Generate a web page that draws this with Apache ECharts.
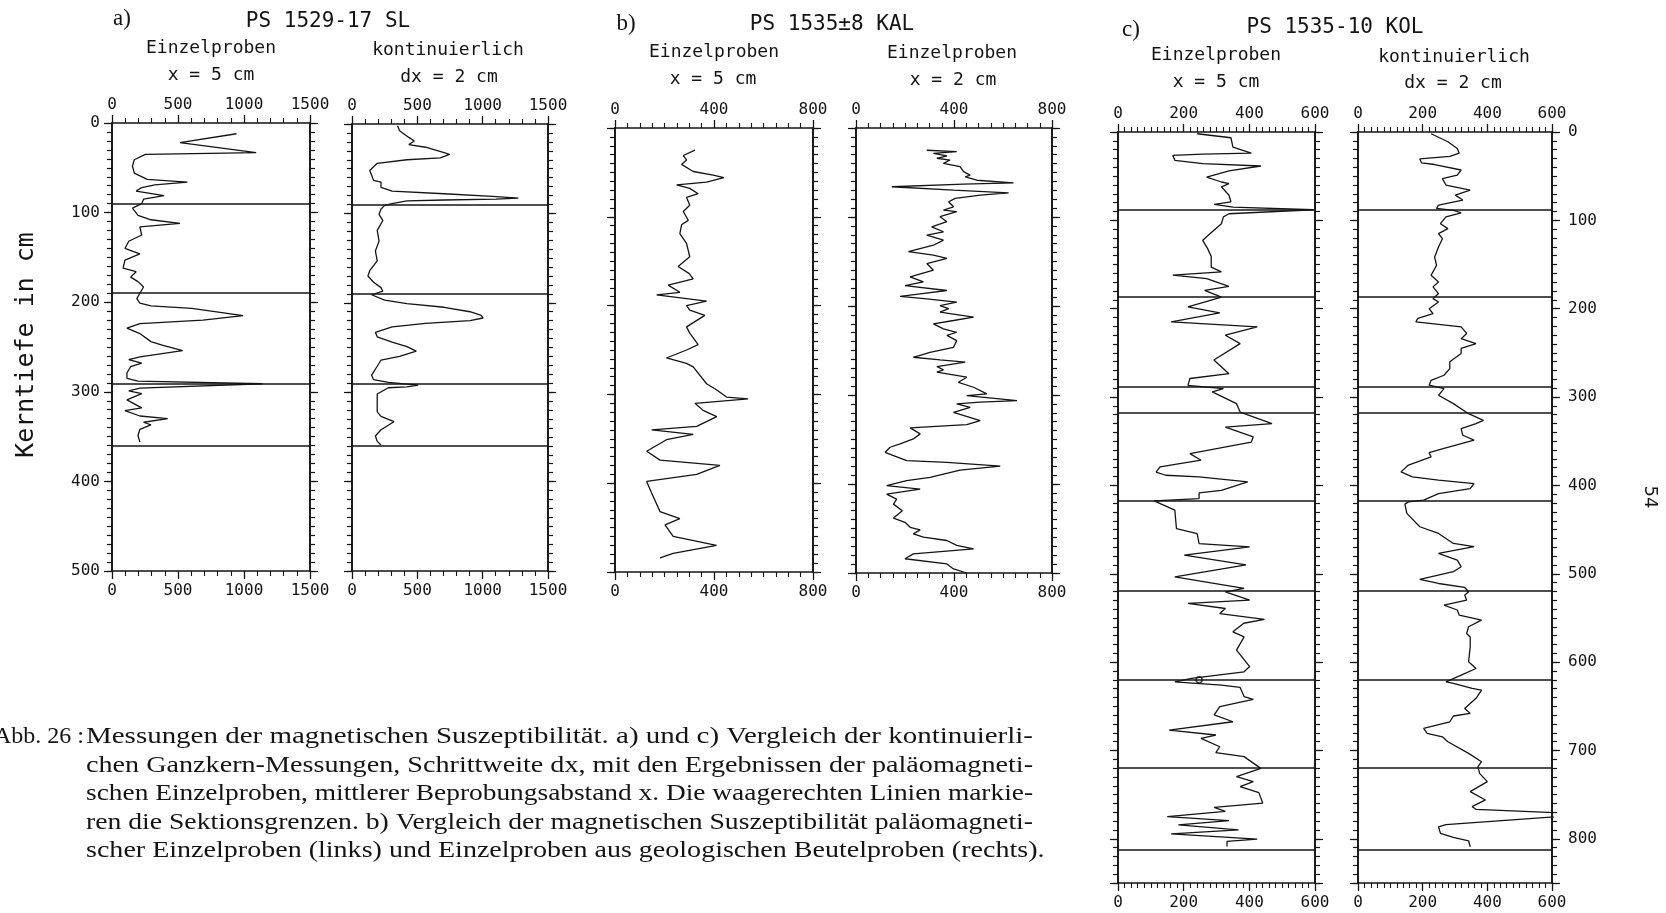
<!DOCTYPE html>
<html>
<head>
<meta charset="utf-8">
<script src="https://cdn.jsdelivr.net/npm/echarts@6/dist/echarts.min.js"></script>
<style>
  html, body { margin: 0; padding: 0; background: #fff; }
  #chart { width: 1666px; height: 913px; }
</style>
</head>
<body>
<div id="chart"></div>
<script>
// Magnetic susceptibility vs. core depth (cm), three cores.

// ---- a) PS 1529-17 SL, Einzelproben (x = 5 cm) ----
const a1Depth = [12, 22, 33, 35, 41, 48, 56, 63, 66, 69, 72, 76, 81, 85, 90,
  95, 103, 108, 112, 116, 125, 132, 140, 146, 153, 162, 166, 172, 177, 183, 190,
  196, 201, 204, 207, 215, 220, 224, 229, 235, 244, 248, 254, 261, 264, 268, 272,
  279, 285, 288, 291, 296, 299, 302, 309, 318, 321, 327, 330, 334, 337, 342, 349, 356];
const a1Chi = [943, 515, 1092, 253, 169, 155, 169, 267, 571, 324, 225, 183, 394, 239, 225,
  155, 197, 295, 515, 211, 225, 127, 98, 211, 98, 84, 183, 141, 197, 239, 211,
  188, 211, 295, 605, 993, 689, 211, 113, 211, 295, 380, 535, 211, 127, 225, 141,
  113, 113, 197, 1140, 211, 127, 225, 113, 225, 98, 211, 422, 239, 295, 211, 197, 211];

// ---- a) PS 1529-17 SL, kontinuierlich (dx = 2 cm) ----
const a2Depth = [2, 7.5, 15, 19, 23, 26, 32, 34, 38, 40, 44, 52, 63, 65, 71, 75, 78, 81,
  83, 84, 85, 86, 89, 91, 95, 101, 108, 119, 131, 142, 153, 164, 170, 177, 183, 187,
  191, 193, 197, 201, 205, 210, 214, 217, 220, 223, 227, 233, 238, 244, 249, 254, 260,
  264, 271, 281, 286, 289, 292, 294, 295, 302, 313, 322, 327, 333, 342, 349, 355, 359];
const a2Chi = [349, 364, 435, 477, 435, 563, 705, 747, 676, 420, 193, 136, 165, 222, 222, 307, 705, 1074,
  1273, 1102, 705, 420, 307, 250, 222, 207, 236, 193, 207, 179, 193, 136, 122, 165, 222, 236,
  150, 165, 250, 420, 705, 903, 989, 1003, 903, 563, 307, 179, 193, 307, 420, 492, 364,
  222, 193, 150, 165, 278, 506, 420, 278, 193, 193, 193, 222, 321, 222, 179, 193, 222];

// ---- b) PS 1535-8 KAL, Einzelproben (x = 5 cm) ----
const b1Depth = [25, 31, 36, 41, 49, 53, 56, 61, 64, 68, 74, 78, 87, 94, 104, 109, 119,
  130, 145, 156, 164, 170, 177, 185, 188, 195, 200, 205, 211, 224, 231, 244, 250, 259,
  265, 269, 288, 295, 303, 305, 310, 318, 325, 336, 340, 345, 351, 364, 374, 380, 390,
  398, 411, 432, 440, 447, 460, 470, 479, 484];
const b1Chi = [323, 276, 289, 269, 316, 397, 440, 370, 249, 302, 336, 289, 302, 276, 296, 269, 262,
  289, 302, 255, 300, 316, 215, 262, 168, 370, 289, 302, 363, 289, 302, 336, 289, 208,
  289, 316, 370, 411, 451, 538, 323, 356, 411, 330, 148, 316, 208, 128, 182, 424, 330,
  128, 148, 182, 262, 202, 235, 410, 235, 182];

// ---- b) PS 1535-8 KAL, Einzelproben (x = 2 cm) ----
const b2Depth = [25, 26.6, 28.4, 31.4, 34, 36, 39.7, 43.5, 49, 53, 55, 58.7, 61.6, 63, 66,
  69.8, 72.8, 75.4, 79, 82.9, 88.5, 92.3, 94, 99.7, 105.3, 111, 116.6, 120.4, 126, 131.7,
  139, 142.9, 146.6, 152.3, 159.8, 167.3, 173, 177, 182.6, 186.3, 189.3, 192, 195.7, 199.5,
  203, 206.9, 210.7, 212.5, 216.3, 220, 225.7, 229.5, 233, 238.9, 246.4, 252, 257.6, 260.6,
  263, 268, 271.8, 274.4, 280, 285.7, 291.3, 298.8, 300.7, 306.3, 308, 310, 313.8, 319.4,
  328.7, 333.2, 337, 343.7, 349.4, 355, 358.7, 364.4, 368, 373.7, 375.6, 380, 384.3, 392.5,
  396.3, 401.9, 405.7, 411.3, 417, 422.6, 430, 438.3, 443, 448.6, 451.6, 456, 459.8, 463.5,
  469, 472.8, 478.5, 484, 489.8, 495.4, 500];
const b2Chi = [289, 411, 316, 371, 330, 384, 357, 425, 439, 466, 446, 493, 643, 439, 146,
  398, 623, 507, 405, 378, 398, 357, 411, 343, 371, 309, 357, 289, 357, 316,
  214, 316, 371, 289, 316, 221, 275, 200, 371, 262, 180, 289, 411, 343,
  378, 343, 439, 480, 398, 316, 357, 411, 371, 411, 398, 302, 234, 343,
  446, 330, 357, 330, 452, 418, 480, 534, 452, 657, 507, 411, 466, 398,
  507, 452, 221, 262, 234, 180, 139, 119, 153, 207, 371, 589, 425, 302,
  207, 125, 262, 125, 166, 153, 189, 153, 200, 221, 262, 234, 275, 371,
  411, 480, 234, 200, 371, 398, 452];

// ---- c) PS 1535-10 KOL, Einzelproben (x = 5 cm) ----
const c1Depth = [2, 6.5, 17, 23.8, 25, 26.4, 32, 35.9, 38.5, 44, 51, 56.6, 58.5, 62, 71.6, 79,
  82, 85, 88, 92.5, 96, 103.8, 111, 122.6, 132, 141, 153, 158.4, 162, 166, 174.7, 179.3,
  187, 198, 204.8, 215, 220.6, 230, 239.5, 258, 273.5, 279, 286.7, 290.5, 294.2, 307.5, 317,
  330, 334, 345, 351, 364, 371.5, 379, 385, 388.5, 390.4, 396, 405.5, 408.5, 414.9, 417.5,
  428, 448.8, 454.5, 465.8, 469.5, 479, 490, 503.4, 516.6, 520.4, 529.8, 533.6, 539.3, 545,
  551.7, 556, 565.7, 571.5, 586.4, 605, 611, 618.5, 622.3, 626, 628.7, 639, 642.2, 650.4,
  659.7, 667.5, 676.9, 682.5, 686.4, 695.8, 702.5, 707, 720.3, 729.6, 735.3, 741, 747.7,
  759.7, 764.3, 769, 774.8, 779.3, 784.2, 789.8, 794.4, 800.4, 803, 808.6];
const c1Chi = [241, 344, 350, 406, 258, 167, 173, 258, 435, 338, 270, 315, 338, 315, 338, 344,
  293, 350, 595, 338, 321, 315, 293, 258, 273, 284, 284, 315, 167, 270, 338, 264,
  315, 213, 310, 162, 424, 327, 372, 292, 338, 219, 213, 321, 287, 361, 372,
  469, 327, 412, 406, 219, 253, 128, 116, 145, 247, 395, 315, 247, 247, 110,
  173, 178, 241, 247, 401, 202, 390, 173, 384, 327, 401, 213, 327, 310,
  446, 383, 350, 384, 361, 401, 384, 224, 173, 315, 372, 384, 412, 310,
  293, 350, 156, 298, 253, 310, 298, 384, 435, 361, 412, 372, 429,
  441, 293, 327, 150, 338, 184, 367, 162, 424, 332, 332];
// ringed sample at the 620 cm section boundary
const c1Ringed = [[247, 620]];

// ---- c) PS 1535-10 KOL, kontinuierlich (dx = 2 cm) ----
const c2Depth = [2, 11, 18.7, 24, 27.5, 30.5, 35, 36.8, 43, 48.8, 52.8, 60, 65.8, 71.4, 77, 82.7,
  86.5, 88.6, 91.4, 96, 103.8, 109.4, 115, 120.8, 130.2, 141.5, 150.9, 162.2, 169.7, 175.3,
  182.9, 188.6, 192.4, 200, 205.6, 211, 215, 220.6, 228, 233.9, 239.5, 245, 250.8, 260, 267.8,
  275.3, 281, 286.6, 290.4, 298, 307.4, 318.8, 326.3, 330, 335.7, 343.2, 348.8, 358, 363,
  367.7, 377, 384.7, 390.4, 394, 397.9, 403.6, 409.2, 416.7, 418.6, 421.2, 431.7, 446.8,
  454.4, 465.7, 469.4, 477, 484.5, 492, 497.7, 506.4, 511, 515.5, 520.4, 524.2, 529.8, 535.5,
  541, 546.8, 552.5, 560, 567.6, 571.5, 582.8, 599.7, 607.2, 614.8, 622.3, 624, 629.8, 631.7,
  641, 652.4, 658, 661, 667.5, 675, 680.7, 684.5, 690.1, 703.3, 712.7, 718.4, 725.9, 735.3,
  746.6, 756, 763.6, 766.6, 772, 784, 786.4, 793.9, 798.4, 802.2, 809];
const c2Chi = [226, 278, 307, 313, 284, 191, 197, 237, 319, 307, 261, 272, 347, 301, 324, 249,
  243, 295, 319, 272, 255, 278, 249, 261, 249, 237, 243, 226, 249, 232,
  249, 232, 249, 220, 232, 185, 179, 319, 336, 319, 365, 319, 319, 284, 284,
  266, 226, 220, 266, 249, 295, 342, 388, 365, 319, 324, 359, 266, 220,
  226, 156, 133, 168, 249, 359, 347, 249, 203, 156, 145, 151, 191,
  249, 295, 359, 249, 307, 319, 295, 191, 249, 330, 342, 330, 336, 266,
  307, 313, 382, 342, 336, 347, 347, 342, 365, 319, 272, 295, 353, 382,
  365, 330, 347, 295, 284, 203, 214, 261, 278, 342, 382, 371, 376, 400,
  347, 394, 353, 365, 720, 272, 249, 255, 295, 342, 347];

// section boundaries (cm)
const aSections = [90, 190, 291, 360];
const cSections = [88, 187, 288, 318, 417, 519, 620, 719, 812];

// tick labels
const aChiTicks = [0, 500, 1000, 1500];
const bChiTicks = [0, 400, 800];
const cChiTicks = [0, 200, 400, 600];
const depthTicksAB = [0, 100, 200, 300, 400, 500];
const depthTicksC = [0, 100, 200, 300, 400, 500, 600, 700, 800];
const depthMaxC = 850;

// ---- layout & style ----
const INK = '#141414';
const MONO = '"DejaVu Sans Mono", monospace';
const SERIF = '"Liberation Serif", "Times New Roman", serif';

const panels = [
  { box: [112, 123, 198, 448], depth: a1Depth, chi: a1Chi, ticks: aChiTicks, minor: 5,
    depthTicks: depthTicksAB, depthMax: 500, sections: aSections, leftLabels: true },
  { box: [352, 124, 196, 447], depth: a2Depth, chi: a2Chi, ticks: aChiTicks, minor: 5,
    depthTicks: depthTicksAB, depthMax: 500, sections: aSections },
  { box: [615, 128, 198, 444], depth: b1Depth, chi: b1Chi, ticks: bChiTicks, minor: 8,
    depthTicks: depthTicksAB, depthMax: 500, sections: [] },
  { box: [856, 128, 196, 445], depth: b2Depth, chi: b2Chi, ticks: bChiTicks, minor: 8,
    depthTicks: depthTicksAB, depthMax: 500, sections: [] },
  { box: [1118, 132, 197, 751], depth: c1Depth, chi: c1Chi, ticks: cChiTicks, minor: 10,
    depthTicks: depthTicksC, depthMax: depthMaxC, sections: cSections, ringed: c1Ringed },
  { box: [1358, 132, 194, 751], depth: c2Depth, chi: c2Chi, ticks: cChiTicks, minor: 10,
    depthTicks: depthTicksC, depthMax: depthMaxC, sections: cSections, rightLabels: true }
];

const axisLine = { show: true, onZero: false, lineStyle: { color: INK, width: 1.6 } };
const tickLabel = { color: INK, fontFamily: MONO, fontSize: 16 };

function chiAxis(gi, p, position) {
  const t = p.ticks;
  return {
    type: 'value', gridIndex: gi, position,
    min: t[0], max: t[t.length - 1], interval: t[1] - t[0],
    axisLine,
    axisTick: { show: true, length: 8, lineStyle: { color: INK, width: 1.3 } },
    minorTick: { show: true, splitNumber: p.minor, length: 5, lineStyle: { color: INK, width: 1.1 } },
    splitLine: { show: false }, minorSplitLine: { show: false },
    axisLabel: Object.assign({ show: true, margin: position === 'top' ? 10 : 12,
      showMinLabel: true, showMaxLabel: true, formatter: v => String(v) }, tickLabel)
  };
}

function depthAxis(gi, p, position, step, tickLen, withLabels) {
  const major = p.depthTicks;
  return {
    type: 'value', gridIndex: gi, position, inverse: true,
    min: 0, max: p.depthMax, interval: step,
    axisLine,
    axisTick: { show: true, length: tickLen, lineStyle: { color: INK, width: 1.2 } },
    splitLine: { show: false },
    axisLabel: withLabels ? Object.assign({ show: true, margin: position === 'left' ? 12 : 16,
      showMinLabel: true, showMaxLabel: true,
      formatter: v => (major.indexOf(v) >= 0 ? String(v) : '') }, tickLabel) : { show: false }
  };
}

const grid = [], xAxis = [], yAxis = [], series = [];
panels.forEach((p, i) => {
  const [l, t, w, h] = p.box;
  grid.push({ left: l, top: t, width: w, height: h, containLabel: false });
  xAxis.push(chiAxis(i, p, 'top'), chiAxis(i, p, 'bottom'));
  yAxis.push(
    depthAxis(i, p, 'left', 10, 5, false),
    depthAxis(i, p, 'left', 100, 8, !!p.leftLabels),
    depthAxis(i, p, 'right', 10, 5, false),
    depthAxis(i, p, 'right', 100, 8, !!p.rightLabels)
  );
  series.push({
    type: 'line', xAxisIndex: 2 * i, yAxisIndex: 4 * i,
    data: p.depth.map((d, k) => [p.chi[k], d]),
    symbol: 'none', showSymbol: false, clip: true, silent: true,
    lineStyle: { color: INK, width: 1.3 },
    markLine: {
      silent: true, symbol: ['none', 'none'], label: { show: false },
      lineStyle: { color: INK, width: 1.7, type: 'solid' },
      emphasis: { disabled: true },
      data: p.sections.map(s => ({ yAxis: s }))
    }
  });
  if (p.ringed) {
    series.push({
      type: 'scatter', xAxisIndex: 2 * i, yAxisIndex: 4 * i, data: p.ringed,
      symbol: 'circle', symbolSize: 6, silent: true,
      itemStyle: { color: '#fff', borderColor: INK, borderWidth: 1.6 }
    });
  }
});

// headings above each pair of columns
const headings = [
  ['a)', 122, 19, '23px ' + SERIF],
  ['PS 1529-17 SL', 328, 22, '21px ' + MONO],
  ['Einzelproben', 211, 48, '18px ' + MONO],
  ['x = 5 cm', 211, 75, '18px ' + MONO],
  ['kontinuierlich', 448, 50, '18px ' + MONO],
  ['dx = 2 cm', 449, 77, '18px ' + MONO],
  ['b)', 626, 24, '23px ' + SERIF],
  ['PS 1535\u00b18 KAL', 832, 25, '21px ' + MONO],
  ['Einzelproben', 714, 52, '18px ' + MONO],
  ['x = 5 cm', 713, 79, '18px ' + MONO],
  ['Einzelproben', 952, 53, '18px ' + MONO],
  ['x = 2 cm', 953, 80, '18px ' + MONO],
  ['c)', 1131, 30, '23px ' + SERIF],
  ['PS 1535-10 KOL', 1335, 28, '21px ' + MONO],
  ['Einzelproben', 1216, 55, '18px ' + MONO],
  ['x = 5 cm', 1216, 82, '18px ' + MONO],
  ['kontinuierlich', 1454, 57, '18px ' + MONO],
  ['dx = 2 cm', 1453, 83, '18px ' + MONO]
];

const graphics = headings.map(([text, x, y, font]) => ({
  type: 'text', x, y, silent: true,
  style: { text, font, fill: INK, align: 'center', verticalAlign: 'middle' }
}));

graphics.push({
  type: 'text', x: 26, y: 345, rotation: Math.PI / 2, silent: true,
  style: { text: 'Kerntiefe in cm', font: '25px ' + MONO, fill: INK, align: 'center', verticalAlign: 'middle' }
});
graphics.push({
  type: 'text', x: 1650, y: 497, rotation: -Math.PI / 2, silent: true,
  style: { text: '54', font: '18px "DejaVu Sans", sans-serif', fill: INK, align: 'center', verticalAlign: 'middle' }
});

// figure caption, justified block with hanging indent
const captionFont = '24px ' + SERIF;
const captionLead = 'Abb. 26 :';
const captionLines = [
  'Messungen der magnetischen Suszeptibilität. a) und c) Vergleich der kontinuierli-',
  'chen Ganzkern-Messungen, Schrittweite dx, mit den Ergebnissen der paläomagneti-',
  'schen Einzelproben, mittlerer Beprobungsabstand x. Die waagerechten Linien markie-',
  'ren die Sektionsgrenzen. b) Vergleich der magnetischen Suszeptibilität paläomagneti-',
  'scher Einzelproben (links) und Einzelproben aus geologischen Beutelproben (rechts).'
];
const capLeft = 86, capRight = 1033, capTop = 737, capStep = 28.5;
const leadRight = 84;
const meas = document.createElement('canvas').getContext('2d');
meas.font = captionFont;
const scales = captionLines.map(s => (capRight - capLeft) / meas.measureText(s).width);
const meanScale = scales.slice(0, 4).reduce((a, b) => a + b, 0) / 4;
captionLines.forEach((s, i) => {
  graphics.push({
    type: 'text', x: capLeft, y: capTop + i * capStep, silent: true,
    scaleX: i < 4 ? scales[i] : meanScale,
    style: { text: s, font: captionFont, fill: INK, align: 'left', verticalAlign: 'middle' }
  });
});
// the lead ends just before the indent; its first letter runs slightly off the left edge
graphics.push({
  type: 'text', x: leadRight, y: capTop, silent: true,
  scaleX: (leadRight + 6) / meas.measureText(captionLead).width,
  style: { text: captionLead, font: captionFont, fill: INK, align: 'right', verticalAlign: 'middle' }
});

const chart = echarts.init(document.getElementById('chart'), null, { renderer: 'canvas' });
chart.setOption({
  backgroundColor: '#ffffff',
  animation: false,
  grid, xAxis, yAxis, series,
  graphic: { elements: graphics }
});
</script>
</body>
</html>
